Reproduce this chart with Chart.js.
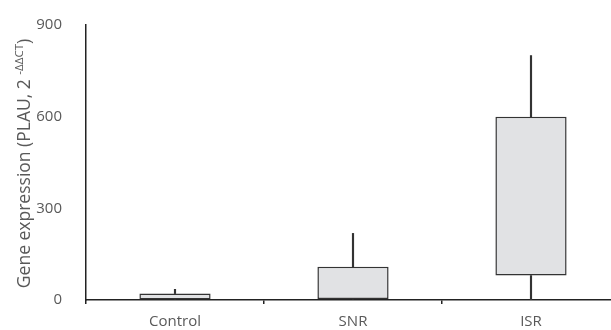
<!doctype html>
<html lang="en">
<head>
  <meta charset="UTF-8">
  <title>PLAU expression</title>
  <script src="https://cdn.jsdelivr.net/npm/chart.js@4.4.0/dist/chart.umd.min.js"></script>
  <style>
    html, body { margin: 0; padding: 0; background: #fff; overflow: hidden; }
    .wrap { width: 620px; height: 330px; }
  </style>
</head>
<body>
<div class="wrap"><canvas id="chart"></canvas></div>
<script>
  const groups = ['Control', 'SNR', 'ISR']
  const boxLow = [2, 3, 80]
  const boxHigh = [21, 109, 600]
  const whiskerMax = [35, 218, 800]
  const whiskerMin = [2, 3, 0]
  const yTicks = [0, 300, 600, 900]

  const FONT = '"Open Sans", sans-serif'
  const GREY = '#595959'

  // y-axis title with the superscript part (-ΔΔCT)
  const yTitle = {
    id: 'yTitle',
    afterDraw(chart) {
      const {ctx, chartArea} = chart
      const parts = [
        {t: 'Gene expression (PLAU, 2 ', size: 17.5, rise: 0},
        {t: '-ΔΔCT', size: 11.5, rise: 5},
        {t: ')', size: 17.5, rise: 0}
      ]
      ctx.save()
      let total = 0
      parts.forEach(p => {
        ctx.font = p.size + 'px ' + FONT
        p.w = ctx.measureText(p.t).width
        total += p.w
      })
      ctx.translate(25, (chartArea.top + chartArea.bottom) / 2 + 1)
      ctx.rotate(-Math.PI / 2)
      ctx.fillStyle = GREY
      ctx.textBaseline = 'middle'
      let x = -total / 2
      parts.forEach(p => {
        ctx.font = p.size + 'px ' + FONT
        ctx.fillText(p.t, x, -p.rise)
        x += p.w
      })
      ctx.restore()
    }
  }

  new Chart(document.getElementById('chart'), {
    type: 'bar',
    data: {
      labels: groups,
      datasets: [
        {
          label: 'upper whisker',
          data: groups.map((g, i) => [boxHigh[i], whiskerMax[i]]),
          backgroundColor: '#333',
          barThickness: 1.5,
          grouped: false,
          order: 2
        },
        {
          label: 'lower whisker',
          data: groups.map((g, i) => [whiskerMin[i], boxLow[i]]),
          backgroundColor: '#333',
          barThickness: 1.5,
          grouped: false,
          order: 2
        },
        {
          label: 'box',
          data: groups.map((g, i) => [boxLow[i], boxHigh[i]]),
          backgroundColor: '#e1e2e4',
          borderColor: '#333',
          borderWidth: 1.5,
          borderSkipped: false,
          barPercentage: 0.4,
          categoryPercentage: 1,
          grouped: false,
          order: 1
        }
      ]
    },
    options: {
      responsive: true,
      maintainAspectRatio: false,
      animation: false,
      layout: {padding: {top: 20, right: 0, left: 0, bottom: 0}},
      plugins: {legend: {display: false}, tooltip: {enabled: false}},
      scales: {
        x: {
          offset: true,
          grid: {offset: true, drawOnChartArea: false, drawTicks: true, tickLength: 4, color: '#222', lineWidth: 1.5},
          border: {color: '#222', width: 1.5},
          ticks: {color: GREY, padding: 9, font: {family: FONT, size: 15}},
          afterFit(s) { s.height = 30 }
        },
        y: {
          min: 0,
          max: 900,
          afterBuildTicks(s) { s.ticks = yTicks.map(v => ({value: v})) },
          grid: {display: false},
          border: {color: '#222', width: 1.5},
          ticks: {color: GREY, padding: 16, font: {family: FONT, size: 15}},
          afterFit(s) { s.width = 86 }
        }
      }
    },
    plugins: [yTitle]
  })
</script>
</body>
</html>
